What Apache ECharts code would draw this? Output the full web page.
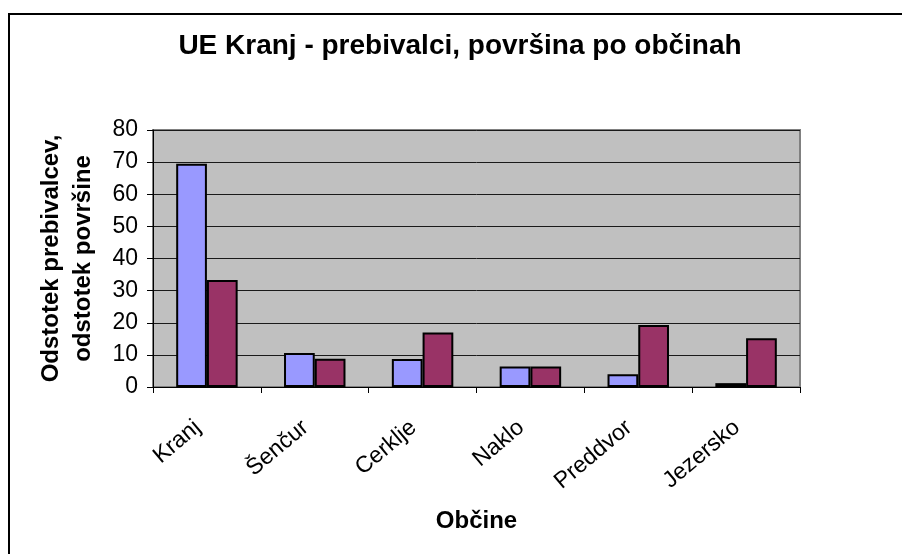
<!DOCTYPE html>
<html>
<head>
<meta charset="utf-8">
<script src="https://cdn.jsdelivr.net/npm/echarts@6/dist/echarts.min.js"></script>
<style>
  html, body { margin: 0; padding: 0; background: #fff; }
  #chart { width: 902px; height: 554px; }
</style>
</head>
<body>
<div id="chart"></div>
<script>
// Podatki (odčitani s slike)
const obcine = ['Kranj', 'Šenčur', 'Cerklje', 'Naklo', 'Preddvor', 'Jezersko'];
const prebivalci = [69.5, 10.6, 8.7, 6.4, 4.0, 1.2];
const povrsina = [33.3, 8.8, 17.0, 6.4, 19.3, 15.2];
const yTicks = [0, 10, 20, 30, 40, 50, 60, 70, 80];

const font = "'Liberation Sans', Arial, sans-serif";

const chart = echarts.init(document.getElementById('chart'));

const option = {
  backgroundColor: '#ffffff',
  animation: false,
  title: {
    text: 'UE Kranj - prebivalci, površina po občinah',
    left: 455,
    textAlign: 'center',
    top: 27,
    textStyle: { fontFamily: font, fontSize: 28, fontWeight: 'bold', color: '#000' },
  },
  graphic: [
    {
      type: 'rect',
      shape: { x: 9, y: 14, width: 1000, height: 1000 },
      style: { fill: 'none', stroke: '#000', lineWidth: 2 },
      silent: true,
    },
  ],
  grid: {
    left: 153,
    top: 130,
    width: 647,
    height: 257,
    show: true,
    backgroundColor: '#C0C0C0',
    borderColor: '#808080',
    borderWidth: 2,
  },
  xAxis: {
    type: 'category',
    data: obcine,
    name: 'Občine',
    nameLocation: 'middle',
    nameGap: 122,
    nameTextStyle: { fontFamily: font, fontSize: 24, fontWeight: 'bold', color: '#000' },
    axisLine: { show: true, lineStyle: { color: '#000', width: 1 } },
    axisTick: { show: true, alignWithLabel: false, length: 6, lineStyle: { color: '#000' } },
    axisLabel: {
      rotate: 40,
      margin: 30,
      padding: [0, 12, 0, 0],
      interval: 0,
      fontFamily: font,
      fontSize: 23,
      color: '#000',
    },
    splitLine: { show: false },
  },
  yAxis: {
    type: 'value',
    min: yTicks[0],
    max: yTicks[yTicks.length - 1],
    interval: 10,
    name: 'Odstotek prebivalcev,\nodstotek površine',
    nameLocation: 'middle',
    nameRotate: 90,
    nameGap: 54,
    nameTextStyle: { fontFamily: font, fontSize: 24, fontWeight: 'bold', color: '#000', lineHeight: 32, align: 'center' },
    axisLine: { show: true, lineStyle: { color: '#000', width: 1 } },
    axisTick: { show: true, length: 6, inside: false, lineStyle: { color: '#000' } },
    axisLabel: { margin: 15, fontFamily: font, fontSize: 23, color: '#000' },
    splitLine: { show: true, lineStyle: { color: '#1a1a1a', width: 1 } },
  },
  series: [
    {
      name: 'Odstotek prebivalcev',
      type: 'bar',
      data: prebivalci,
      barGap: '0%',
      barCategoryGap: '43%',
      itemStyle: { color: '#9999FF', borderColor: '#000', borderWidth: 2 },
    },
    {
      name: 'Odstotek površine',
      type: 'bar',
      data: povrsina,
      barGap: '0%',
      barCategoryGap: '43%',
      itemStyle: { color: '#993366', borderColor: '#000', borderWidth: 2 },
    },
  ],
};

chart.setOption(option);
</script>
</body>
</html>
